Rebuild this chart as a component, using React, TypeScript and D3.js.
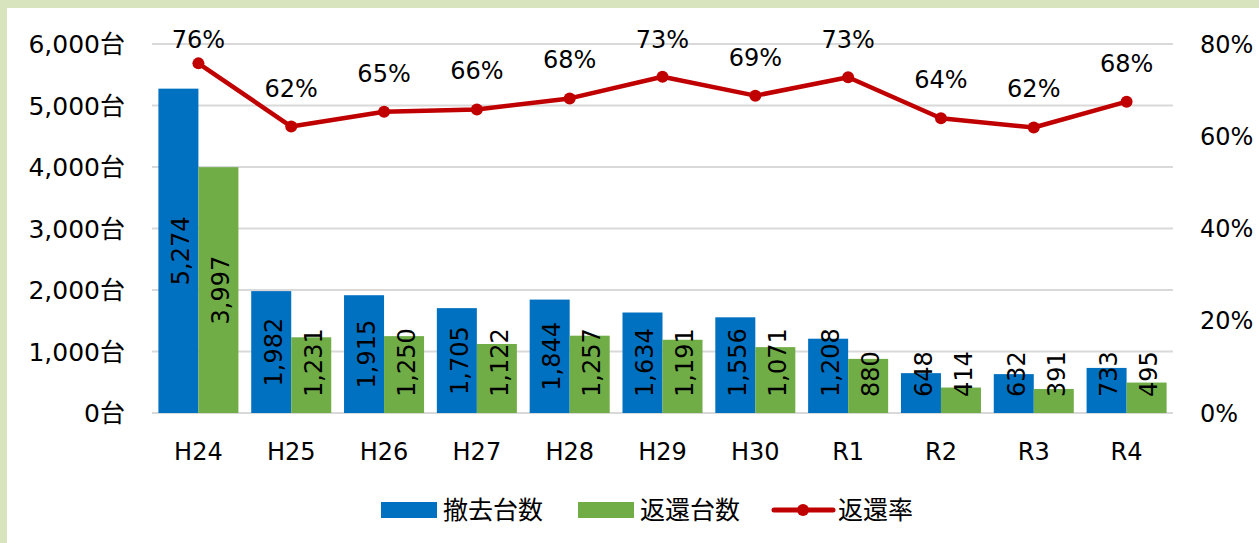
import React, { useEffect } from 'react';
import * as d3 from 'd3';

// 年度
const categories = ['H24', 'H25', 'H26', 'H27', 'H28', 'H29', 'H30', 'R1', 'R2', 'R3', 'R4'];
// 撤去台数
const removed = [5274, 1982, 1915, 1705, 1844, 1634, 1556, 1208, 648, 632, 733];
// 返還台数
const returned = [3997, 1231, 1250, 1122, 1257, 1191, 1071, 880, 414, 391, 495];
// 返還率
const returnRate = [0.758, 0.621, 0.653, 0.658, 0.682, 0.729, 0.688, 0.728, 0.639, 0.619, 0.675];

const leftTicks = [0, 1000, 2000, 3000, 4000, 5000, 6000];
const rightTicks = [0, 0.2, 0.4, 0.6, 0.8];

const W = 1259;
const H = 543;
const FONT = '"DejaVu Sans", "Noto Sans CJK JP", sans-serif';
const BLUE = '#0070c0';
const GREEN = '#70ad47';
const RED = '#c00000';
const GRID = '#d9d9d9';

const App: React.FC = () => {
  useEffect(() => {
    document.body.style.margin = '0';
  }, []);

  const plot = { left: 152, right: 1173, top: 44, bottom: 413 };

  const x = d3.scaleBand<string>()
    .domain(categories)
    .range([plot.left, plot.right])
    .paddingInner(0.138)
    .paddingOuter(0.069);

  const sub = d3.scaleBand<string>()
    .domain(['removed', 'returned'])
    .range([0, x.bandwidth()]);

  const y = d3.scaleLinear().domain([0, 6000]).range([plot.bottom, plot.top]);
  const y2 = d3.scaleLinear().domain([0, 0.8]).range([plot.bottom, plot.top]);

  const fmt = d3.format(',');
  const fs = 24;
  const digitW = 0.636 * fs;

  const labelLen = (s: string) =>
    s.split('').reduce((acc, c) => acc + (c === ',' ? 0.318 * fs : digitW), 0);

  const cx = (c: string) => (x(c) ?? 0) + x.bandwidth() / 2;

  const line = d3.line<number>()
    .x((_, i) => cx(categories[i]))
    .y(d => y2(d));

  const bars: { key: string; c: string; v: number; color: string }[] = [];
  categories.forEach((c, i) => {
    bars.push({ key: 'removed', c, v: removed[i], color: BLUE });
    bars.push({ key: 'returned', c, v: returned[i], color: GREEN });
  });

  return (
    <div style={{ position: 'absolute', left: 0, top: 0 }}>
      <svg width={W} height={H} style={{ display: 'block', fontFamily: FONT }}>
        {/* frame */}
        <rect x={0} y={0} width={W} height={H} fill="#d7e4bd" />
        <rect x={7} y={8} width={W - 7} height={H - 8} fill="#ffffff" />

        {/* gridlines */}
        {leftTicks.map(t => (
          <line key={t} x1={plot.left} x2={plot.right} y1={y(t)} y2={y(t)}
            stroke={GRID} strokeWidth={2} />
        ))}

        {/* left axis labels */}
        {leftTicks.map(t => (
          <text key={'l' + t} x={125} y={y(t)} dy="0.36em" textAnchor="end"
            fontSize={25} fill="#000">{fmt(t)}台</text>
        ))}

        {/* right axis labels */}
        {rightTicks.map(t => (
          <text key={'r' + t} x={1200} y={y2(t)} dy="0.36em" textAnchor="start"
            fontSize={fs} fill="#000">{Math.round(t * 100)}%</text>
        ))}

        {/* bars */}
        {bars.map(b => {
          const bx = (x(b.c) ?? 0) + (sub(b.key) ?? 0);
          return (
            <rect key={b.key + b.c} x={bx} y={y(b.v)} width={sub.bandwidth()}
              height={plot.bottom - y(b.v)} fill={b.color} />
          );
        })}

        {/* bar value labels */}
        {bars.map(b => {
          const bx = (x(b.c) ?? 0) + (sub(b.key) ?? 0) + sub.bandwidth() / 2;
          const s = fmt(b.v);
          const half = labelLen(s) / 2;
          const mid = (y(b.v) + plot.bottom) / 2;
          const ly = Math.min(mid, plot.bottom - half - 16);
          return (
            <text key={'t' + b.key + b.c} transform={`translate(${bx},${ly}) rotate(-90)`}
              textAnchor="middle" dy="0.45em" fontSize={fs} fill="#000">{s}</text>
          );
        })}

        {/* return rate line */}
        <path d={line(returnRate) ?? ''} fill="none" stroke={RED} strokeWidth={4.5}
          strokeLinejoin="round" />
        {returnRate.map((r, i) => (
          <circle key={'p' + i} cx={cx(categories[i])} cy={y2(r)} r={6} fill={RED} />
        ))}
        {returnRate.map((r, i) => (
          <text key={'pl' + i} x={cx(categories[i])} y={Math.max(y2(r) - 30, 48)}
            textAnchor="middle" fontSize={fs} fill="#000">{Math.round(r * 100)}%</text>
        ))}

        {/* x axis labels */}
        {categories.map(c => (
          <text key={'x' + c} x={cx(c)} y={460} textAnchor="middle" fontSize={fs}
            fill="#000">{c}</text>
        ))}

        {/* legend */}
        <g>
          <rect x={381} y={502} width={56} height={16} fill={BLUE} />
          <text x={443} y={510} dy="0.36em" fontSize={25} fill="#000">撤去台数</text>
          <rect x={578} y={502} width={56} height={16} fill={GREEN} />
          <text x={640} y={510} dy="0.36em" fontSize={25} fill="#000">返還台数</text>
          <line x1={774} x2={833} y1={510} y2={510} stroke={RED} strokeWidth={5}
            strokeLinecap="round" />
          <circle cx={803} cy={510} r={6} fill={RED} />
          <text x={838} y={510} dy="0.36em" fontSize={25} fill="#000">返還率</text>
        </g>
      </svg>
    </div>
  );
};

export default App;
